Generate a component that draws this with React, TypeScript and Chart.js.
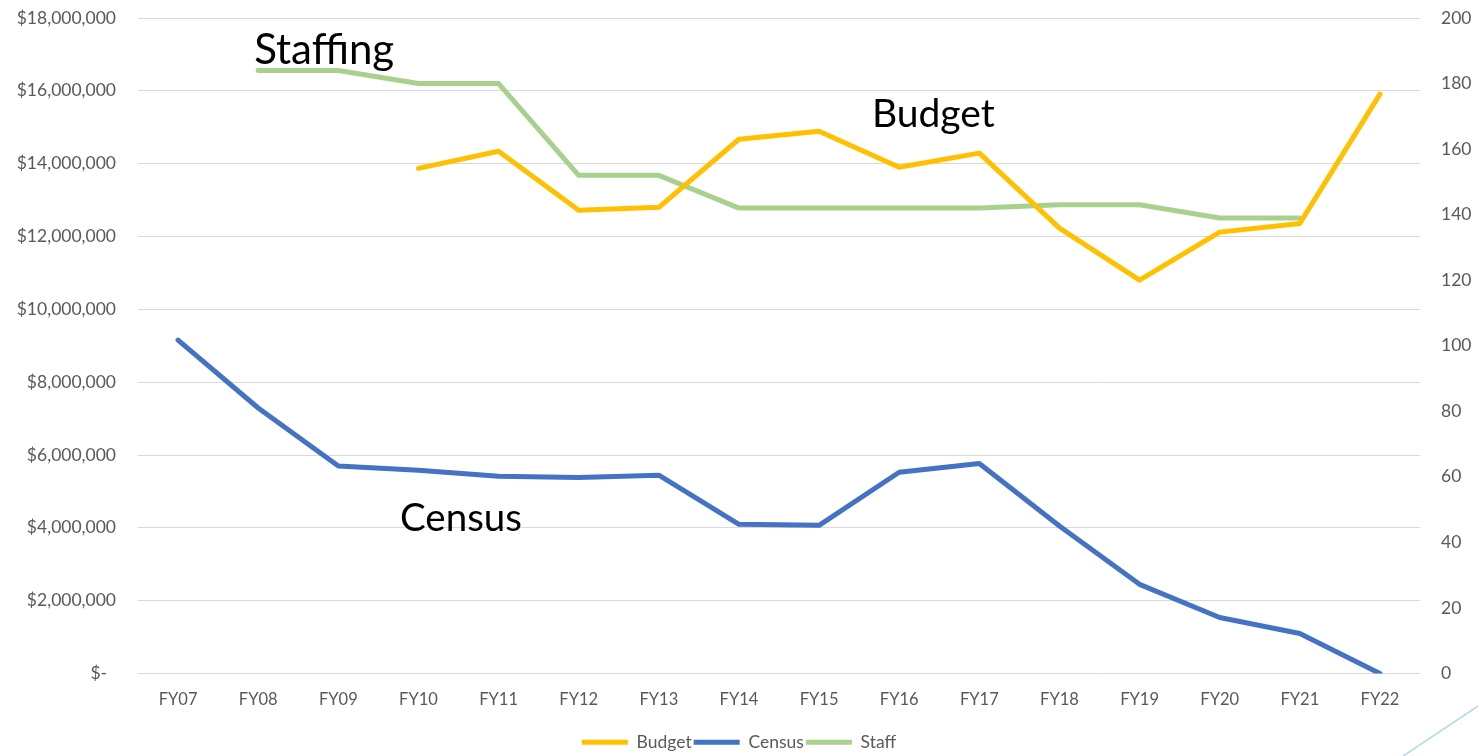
import React, { useEffect, useRef } from "react";
import { Chart, registerables } from "chart.js";

Chart.register(...registerables);

const categories = ["FY07", "FY08", "FY09", "FY10", "FY11", "FY12", "FY13", "FY14", "FY15", "FY16", "FY17", "FY18", "FY19", "FY20", "FY21", "FY22"];
const budget: (number | null)[] = [null, null, null, 13870000, 14340000, 12720000, 12800000, 14670000, 14890000, 13900000, 14290000, 12230000, 10800000, 12120000, 12360000, 15910000];
const census: (number | null)[] = [101.7, 81, 63.3, 62, 60.2, 59.8, 60.5, 45.5, 45.2, 61.4, 64.1, 45, 27.2, 17.1, 12.2, 0];
const staff: (number | null)[] = [null, 184, 184, 180, 180, 152, 152, 142, 142, 142, 142, 143, 143, 139, 139, null];
const leftTicks = { min: 0, max: 18000000, step: 2000000 };
const rightTicks = { min: 0, max: 200, step: 20 };

const FONT = "Lato, 'Open Sans', sans-serif";
const TICK_COLOR = "#595959";

const annotationPlugin = {
  id: "annotations",
  afterDatasetsDraw(chart: any) {
    const ctx = chart.ctx;
    const x = chart.scales.x;
    const y = chart.scales.y;
    ctx.save();
    ctx.fillStyle = "#000000";
    ctx.textBaseline = "alphabetic";
    ctx.textAlign = "left";
    ctx.font = `42px ${FONT}`;
    ctx.fillText("Staffing", x.getPixelForValue(1) - 4, y.getPixelForValue(16750000));
    ctx.font = `39px ${FONT}`;
    ctx.fillText("Budget", x.getPixelForValue(8.66), y.getPixelForValue(15000000));
    ctx.font = `38.5px ${FONT}`;
    ctx.fillText("Census", x.getPixelForValue(2.77), y.getPixelForValue(3910000));
    // decorative slide stroke
    ctx.strokeStyle = "#a9d8e4";
    ctx.lineWidth = 1.5;
    ctx.beginPath();
    ctx.moveTo(chart.width - 75, chart.height);
    ctx.lineTo(chart.width, chart.height - 50);
    ctx.stroke();
    ctx.restore();
  },
};

export default function App() {
  const ref = useRef<HTMLCanvasElement | null>(null);
  useEffect(() => {
    document.body.style.margin = "0";
    const canvas = ref.current;
    if (!canvas) return;
    const lineStyle = {
      borderWidth: 5,
      borderCapStyle: "round" as const,
      borderJoinStyle: "round" as const,
      pointRadius: 0,
      tension: 0,
    };
    const chart = new Chart(canvas, {
      type: "line",
      data: {
        labels: categories,
        datasets: [
          { label: "Budget", data: budget, yAxisID: "y", borderColor: "#FFC000", backgroundColor: "#FFC000", ...lineStyle },
          { label: "Census", data: census, yAxisID: "y1", borderColor: "#4472C4", backgroundColor: "#4472C4", ...lineStyle },
          { label: "Staff", data: staff, yAxisID: "y1", borderColor: "#A9D18E", backgroundColor: "#A9D18E", ...lineStyle },
        ],
      },
      options: {
        animation: false,
        responsive: true,
        maintainAspectRatio: false,
        layout: { padding: { top: 18, left: 0, right: 0, bottom: -5 } },
        plugins: {
          tooltip: { enabled: false },
          legend: {
            position: "bottom",
            labels: {
              usePointStyle: true,
              pointStyle: "line",
              pointStyleWidth: 46,
              padding: 2,
              color: TICK_COLOR,
              font: { family: FONT, size: 17.5 },
            },
          },
        },
        scales: {
          x: {
            offset: true,
            grid: { display: false, drawTicks: false },
            border: { display: false },
            ticks: { color: TICK_COLOR, font: { family: FONT, size: 16.5 }, padding: 16 },
            afterFit: (s: any) => {
              s.height = 58;
            },
          },
          y: {
            position: "left",
            min: leftTicks.min,
            max: leftTicks.max,
            grid: { color: "#d9d9d9", lineWidth: 1, drawTicks: false },
            border: { display: false },
            ticks: {
              stepSize: leftTicks.step,
              color: TICK_COLOR,
              font: { family: FONT, size: 17.5 },
              padding: 22,
              callback: (v: any) => (Number(v) === 0 ? "$-  " : "$" + Number(v).toLocaleString("en-US")),
            },
            afterFit: (s: any) => {
              s.width = 138;
              s.paddingTop = 0;
              s.paddingBottom = 0;
            },
          },
          y1: {
            position: "right",
            min: rightTicks.min,
            max: rightTicks.max,
            grid: { display: false, drawTicks: false },
            border: { display: false },
            ticks: {
              stepSize: rightTicks.step,
              color: TICK_COLOR,
              font: { family: FONT, size: 17.5 },
              padding: 21,
            },
            afterFit: (s: any) => {
              s.width = 58;
              s.paddingTop = 0;
              s.paddingBottom = 0;
            },
          },
        },
      },
      plugins: [annotationPlugin],
    });
    return () => chart.destroy();
  }, []);
  return (
    <div style={{ position: "fixed", left: 0, top: 0, width: 1478, height: 756, background: "#ffffff" }}>
      <canvas ref={ref} />
    </div>
  );
}
